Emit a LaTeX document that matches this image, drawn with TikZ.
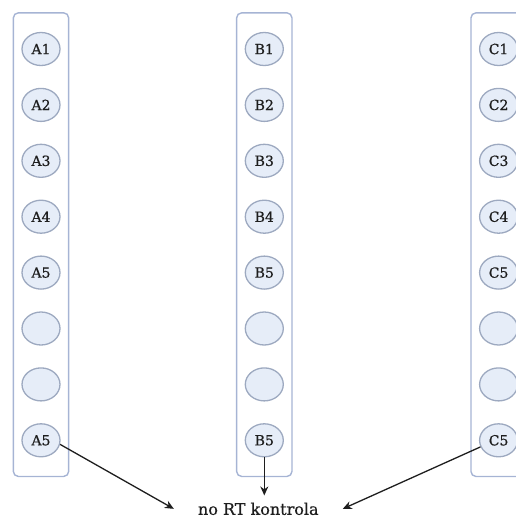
\documentclass[tikz,border=0pt]{standalone}
\usepackage{fontspec}
\setmainfont[FakeBold=0.6]{DejaVu Serif}
\usetikzlibrary{positioning, arrows.meta, shapes.geometric, fit, backgrounds}
\definecolor{frame}{HTML}{A6B4D4}
\definecolor{well}{HTML}{E6EDF8}
\definecolor{wellrim}{HTML}{9DA9C0}
\definecolor{ink}{HTML}{1E1E1E}

\begin{document}
\begin{tikzpicture}[
    every node/.style={font=\fontsize{14}{16}\selectfont, text=ink},
    well/.style={ellipse, draw=wellrim, fill=well, line width=1.3pt,
      minimum width=38pt, minimum height=33pt, inner sep=0pt},
    strip/.style={rectangle, rounded corners=5pt, draw=frame,
      line width=1.4pt, inner xsep=8pt, inner ysep=19pt},
    arr/.style={-{Stealth[length=9pt, width=8pt]}, line width=1.3pt, color=ink}]

  \useasboundingbox (0,0) rectangle (516pt,-523pt);

  % column A
  \node[well] (a1) at (41pt,-49pt) {A1};
  \node[well, below=21.6pt of a1] (a2) {A2};
  \node[well, below=21.6pt of a2] (a3) {A3};
  \node[well, below=21.6pt of a3] (a4) {A4};
  \node[well, below=21.6pt of a4] (a5) {A5};
  \node[well, below=21.6pt of a5] (a6) {};
  \node[well, below=21.6pt of a6] (a7) {};
  \node[well, below=21.6pt of a7] (a8) {A5};

  % column B
  \node[well, right=184pt of a1] (b1) {B1};
  \node[well, below=21.6pt of b1] (b2) {B2};
  \node[well, below=21.6pt of b2] (b3) {B3};
  \node[well, below=21.6pt of b3] (b4) {B4};
  \node[well, below=21.6pt of b4] (b5) {B5};
  \node[well, below=21.6pt of b5] (b6) {};
  \node[well, below=21.6pt of b6] (b7) {};
  \node[well, below=21.6pt of b7] (b8) {B5};

  % column C
  \node[well, right=195pt of b1] (c1) {C1};
  \node[well, below=21.6pt of c1] (c2) {C2};
  \node[well, below=21.6pt of c2] (c3) {C3};
  \node[well, below=21.6pt of c3] (c4) {C4};
  \node[well, below=21.6pt of c4] (c5) {C5};
  \node[well, below=21.6pt of c5] (c6) {};
  \node[well, below=21.6pt of c6] (c7) {};
  \node[well, below=21.6pt of c7] (c8) {C5};

  \begin{scope}[on background layer]
    \node[strip, fit=(a1)(a8)] (colA) {};
    \node[strip, fit=(b1)(b8)] (colB) {};
    \node[strip, fit=(c1)(c8)] (colC) {};
  \end{scope}

  \node[below=38pt of b8, xshift=-6pt, font=\fontsize{16}{18}\selectfont,
    inner xsep=24pt, inner ysep=7pt] (ctrl) {no RT kontrola};

  \draw[arr] (a8.-12) -- (ctrl.west);
  \draw[arr] (b8.south) -- (b8.south |- ctrl.north);
  \draw[arr] (c8.200) -- (ctrl.east);
\end{tikzpicture}
\end{document}
